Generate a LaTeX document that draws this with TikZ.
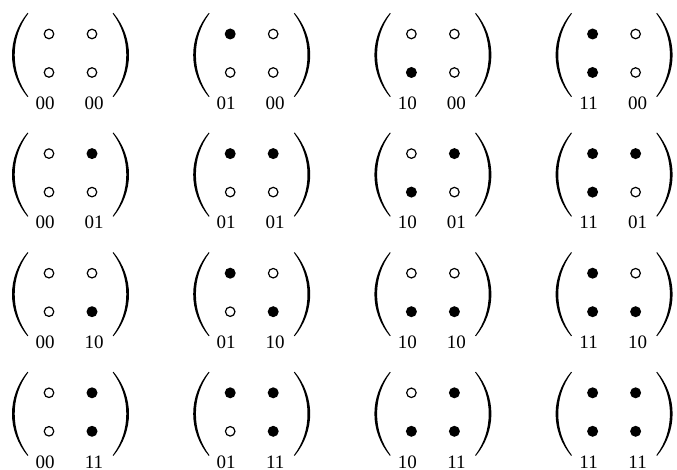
\documentclass[tikz,border=0pt]{standalone}
\usepackage{fontspec}
\setmainfont{Liberation Serif}
\begin{document}
\begin{tikzpicture}[x=1pt,y=-1pt,
  dot0/.style={circle,draw=black,line width=1.2pt,inner sep=0pt,minimum size=9.5pt},
  dot1/.style={circle,fill=black,inner sep=0pt,minimum size=11pt},
  lab/.style={inner sep=0pt,font=\fontsize{19}{22}\selectfont},
  paren/.pic={\fill (-43,-42) .. controls (-53,-30) and (-58.5,-15) .. (-58.5,0)
      .. controls (-58.5,15) and (-53,30) .. (-43,42) -- (-42.2,41.5)
      .. controls (-51.5,29) and (-55.8,15) .. (-55.8,0)
      .. controls (-55.8,-15) and (-51.5,-29) .. (-42.2,-41.5) -- cycle;}]
\useasboundingbox (0,0) rectangle (677,470);
\foreach \i/\rlab/\rt/\rb in {0/00/0/0,1/01/1/0,2/10/0/1,3/11/1/1}{
  \foreach \j/\clab/\ct/\cb in {0/00/0/0,1/01/1/0,2/10/0/1,3/11/1/1}{
    \pgfmathsetmacro{\xo}{49+181.2*\j}
    \pgfmathsetmacro{\yo}{34+119.6*\i}
    \coordinate (c\i\j) at (\xo+21.5,\yo+21);
    \node[dot\ct] (tl\i\j) at (\xo,\yo) {};
    \node[dot\cb] (bl\i\j) at (\xo,\yo+38.5) {};
    \node[dot\rt] (tr\i\j) at (\xo+43,\yo) {};
    \node[dot\rb] (br\i\j) at (\xo+43,\yo+38.5) {};
    \pic at (c\i\j) {paren};
    \pic[xscale=-1] at (c\i\j) {paren};
    \node[lab] (la\i\j) at (\xo-4,\yo+69) {\clab};
    \node[lab] (lb\i\j) at (\xo+45,\yo+69) {\rlab};
  }
}
\end{tikzpicture}
\end{document}
